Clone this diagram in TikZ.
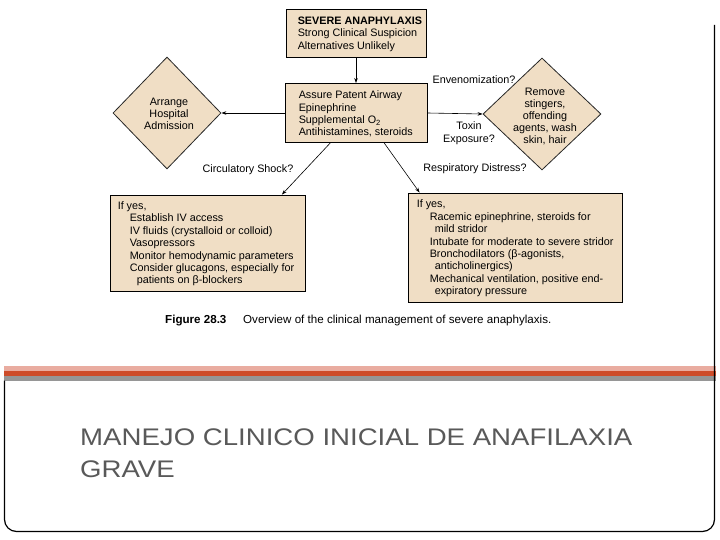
\documentclass[tikz,border=0pt]{standalone}
\usepackage{fontspec}
\setmainfont{Liberation Sans}
\usepackage{xcolor}
\usepackage{tikz}
\usetikzlibrary{shapes.geometric,positioning,calc,arrows.meta}

\definecolor{boxtan}{RGB}{240,222,197}
\definecolor{slidegray}{RGB}{89,89,89}
\definecolor{barpink}{RGB}{233,172,160}
\definecolor{barred}{RGB}{205,76,42}
\definecolor{bargray}{RGB}{150,150,150}
\pgfdeclarelayer{back}
\pgfsetlayers{back,main}

\begin{document}
\begin{tikzpicture}[x=1pt, y=-1pt,
  font=\fontsize{10.8}{12.4}\selectfont,
  stepbox/.style={draw=black, line width=0.9pt, fill=boxtan, rectangle, inner sep=0pt},
  steptext/.style={anchor=west, align=left, inner sep=0pt},
  decide/.style={draw=black!85, line width=0.8pt, fill=boxtan, diamond, inner sep=0pt},
  arr/.style={-{Stealth[length=5pt,width=3.5pt]}, line width=0.6pt}]
  \useasboundingbox (0,0) rectangle (720,540);

  % Start and first line of care
  \node[stepbox, minimum width=140, minimum height=48] (sevr) at (356,33) {};
  \node[steptext] (sevrtxt) at ($(sevr.west)+(12,1)$)
    {\textbf{SEVERE ANAPHYLAXIS}\\Strong Clinical Suspicion\\Alternatives Unlikely};
  \node[stepbox, minimum width=142, minimum height=59] (airway) at (356,113) {};
  \node[steptext] (airwaytxt) at ($(airway.west)+(14,1)$)
    {Assure Patent Airway\\Epinephrine\\Supplemental O\textsubscript{2}\\Antihistamines, steroids};

  % Side branches (diamonds)
  \node[decide, minimum width=108, minimum height=112] (admit) at (167,113) {};
  \node[align=center, font=\fontsize{10.8}{12}\selectfont] (admittxt) at (169,114) {Arrange\\Hospital\\Admission};
  \node[decide, minimum width=118, minimum height=112] (toxd) at (542,114) {};
  \node[align=center, font=\fontsize{10.8}{12}\selectfont] (toxtxt) at (545,116) {Remove\\stingers,\\offending\\agents, wash\\skin, hair};
  \node (envlabel) at (474,80) {Envenomization?};
  \node[align=center, font=\fontsize{10.8}{12.5}\selectfont] (toxlabel) at (469,133) {Toxin\\Exposure?};

  % Circulatory shock branch
  \node[stepbox, minimum width=195, minimum height=96] (shock) at (207.5,243) {};
  \node[steptext] (shocktxt) at ($(shock.west)+(8,1)$)
    {If yes,\\
     \hspace*{12pt}Establish IV access\\
     \hspace*{12pt}IV fluids (crystalloid or colloid)\\
     \hspace*{12pt}Vasopressors\\
     \hspace*{12pt}Monitor hemodynamic parameters\\
     \hspace*{12pt}Consider glucagons, especially for\\
     \hspace*{19pt}patients on β-blockers};
  \node (shocklabel) at (248,170) {Circulatory Shock?};

  % Respiratory distress branch
  \node[stepbox, minimum width=214, minimum height=109] (resp) at (515,247.5) {};
  \node[steptext] (resptxt) at ($(resp.west)+(9,1)$)
    {If yes,\\
     \hspace*{13pt}Racemic epinephrine, steroids for\\
     \hspace*{18pt}mild stridor\\
     \hspace*{13pt}Intubate for moderate to severe stridor\\
     \hspace*{13pt}Bronchodilators (β-agonists,\\
     \hspace*{18pt}anticholinergics)\\
     \hspace*{13pt}Mechanical ventilation, positive end-\\
     \hspace*{18pt}expiratory pressure};
  \node (resplabel) at (475,169) {Respiratory Distress?};

  % Connectors, kept behind the boxes
  \begin{pgfonlayer}{back}
    \draw[arr] (sevr.south) -- (airway.north);
    \draw[arr] (airway.west) -- (admit.east);
    \draw[arr] (airway.east) -- (toxd.west);
    \draw[arr] ($(airway.south west)!0.32!(airway.south east)$) -- ($(shock.north west)!0.88!(shock.north east)$);
    \draw[arr] ($(airway.south west)!0.697!(airway.south east)$) -- ($(resp.north west)!0.056!(resp.north east)$);
  \end{pgfonlayer}

  % Caption
  \node[anchor=base west, inner sep=0pt, font=\fontsize{11.6}{14}\selectfont\bfseries] (figno) at (165,323) {Figure 28.3};
  \node[anchor=base west, inner sep=0pt, font=\fontsize{11.6}{14}\selectfont] (figcap) at (243,323)
    {Overview of the clinical management of severe anaphylaxis.};

  % Slide bars and frame
  \fill[barpink] (4,366) rectangle (716,371);
  \fill[barred] (4,371) rectangle (716,376);
  \fill[bargray] (4,376) rectangle (716,380.5);
  \draw[line width=1.2pt, rounded corners=12pt] (714.5,25) -- (714.5,531.5) -- (4.5,531.5) -- (4.5,380.5);

  % Slide title
  \node[anchor=base west, inner sep=0pt, align=left, text=slidegray, xscale=1.15,
    font=\fontsize{24}{32}\selectfont] (title) at (80,477)
    {MANEJO CLINICO INICIAL DE ANAFILAXIA\\GRAVE};
\end{tikzpicture}
\end{document}
